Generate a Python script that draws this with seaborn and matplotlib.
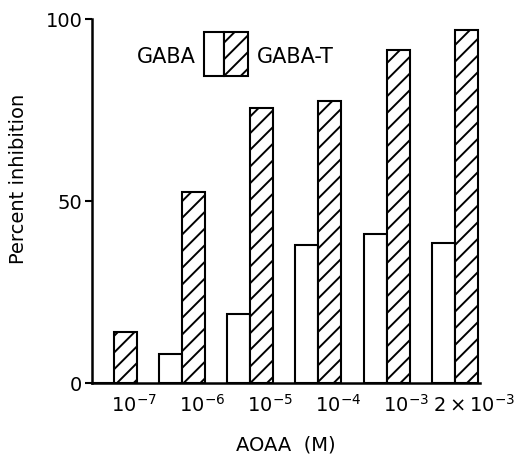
import matplotlib
matplotlib.use("Agg")
import matplotlib.pyplot as plt
from matplotlib.patches import Rectangle
import seaborn as sns
import pandas as pd

# Data
concentrations = [r"$10^{-7}$", r"$10^{-6}$", r"$10^{-5}$", r"$10^{-4}$", r"$10^{-3}$", r"$2\times10^{-3}$"]
gaba = [0, 8, 19, 38, 41, 38.5]
gaba_t = [14, 52.5, 75.5, 77.5, 91.5, 97]
series = ["GABA", "GABA-T"]
y_ticks = [0, 50, 100]

df = pd.DataFrame({
    "conc": concentrations * 2,
    "series": [series[0]] * len(gaba) + [series[1]] * len(gaba_t),
    "value": gaba + gaba_t,
})

sns.set_style("ticks")
plt.rcParams["font.family"] = ["DejaVu Sans"]
plt.rcParams["mathtext.default"] = "regular"
plt.rcParams["hatch.linewidth"] = 1.4
for key in ["text.color", "axes.labelcolor", "xtick.color", "ytick.color", "axes.edgecolor"]:
    plt.rcParams[key] = "black"

fig = plt.figure(figsize=(5.15, 4.55), dpi=100)
ax = fig.add_axes([0.1786, 0.158, 0.932 - 0.1786, 0.958 - 0.158])

sns.barplot(data=df, x="conc", y="value", hue="series", order=concentrations,
            hue_order=series, palette=["white", "white"], edgecolor="black",
            linewidth=1.5, width=0.675, gap=0, legend=False, ax=ax)

for bar in ax.containers[1]:
    bar.set_hatch("//")

ax.set_ylim(0, 100)
ax.set_xlim(-0.323, 5.37)
ax.set_yticks(y_ticks)
ax.set_yticklabels([str(t) for t in y_ticks], fontsize=14)
ax.set_xticks([i + 0.29 for i in range(len(concentrations))])
ax.set_xticklabels(concentrations, fontsize=14)
ax.tick_params(axis="x", length=0, pad=8)
ax.tick_params(axis="y", length=5, width=1.5, direction="out", pad=2)

for side in ["top", "right"]:
    ax.spines[side].set_visible(False)
for side in ["left", "bottom"]:
    ax.spines[side].set_linewidth(1.8)
    ax.spines[side].set_color("black")

ax.set_xlabel("AOAA  (M)", fontsize=14, labelpad=14)
ax.set_ylabel("Percent inhibition", fontsize=14)
ax.yaxis.set_label_coords(-0.165, 0.56)

# Custom legend: label, two boxes, label
ax.text((196 - 92) / 388, 0.895, "GABA", transform=ax.transAxes, fontsize=15,
        ha="right", va="center")
box_w = 20 / 388
box_h = 44 / 364
x0 = (204 - 92) / 388
y0 = 1 - (76 - 19) / 364
ax.add_patch(Rectangle((x0, y0), box_w, box_h, transform=ax.transAxes,
                       facecolor="white", edgecolor="black", linewidth=1.5,
                       clip_on=False))
ax.add_patch(Rectangle((x0 + box_w, y0), 24 / 388, box_h, transform=ax.transAxes,
                       facecolor="white", edgecolor="black", linewidth=1.5,
                       hatch="//", clip_on=False))
ax.text((257 - 92) / 388, 0.895, "GABA-T", transform=ax.transAxes, fontsize=15,
        ha="left", va="center")

fig.savefig("out.png", dpi=100)
